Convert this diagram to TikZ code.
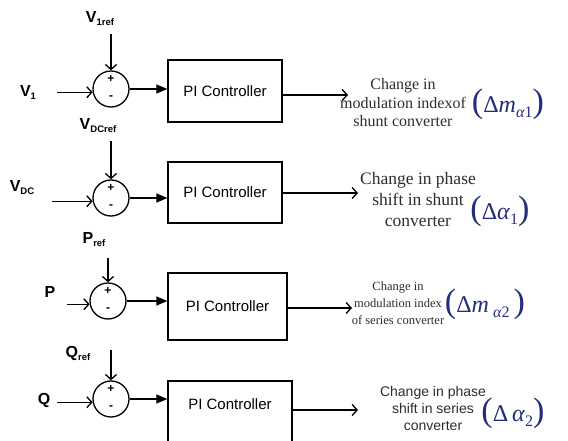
\documentclass[tikz,border=0pt]{standalone}
\usepackage{fontspec}
\setmainfont{Liberation Serif}
\setsansfont{Liberation Sans}
\usetikzlibrary{arrows.meta}
\definecolor{mathblue}{RGB}{35,45,125}
\definecolor{desctext}{RGB}{45,45,45}
\newcommand\siglab[2]{\textbf{#1}{\fontsize{9.5}{9.5}\selectfont\bfseries\raisebox{-3pt}{#2}}}
\newcommand\bigp[1]{{\fontsize{34}{34}\selectfont(}#1{\fontsize{34}{34}\selectfont)}}
\newcommand\mfont{\fontsize{24}{24}\selectfont}
\newcommand\subf{\fontsize{16}{16}\selectfont}
\begin{document}
\begin{tikzpicture}[x=1pt,y=-1pt,
  line width=1.3pt,
  sumnode/.style={circle,draw,minimum size=36pt,inner sep=0pt},
  pibox/.style={draw,font=\sffamily\fontsize{15}{15}\selectfont,inner sep=0pt},
  siglabel/.style={font=\sffamily\fontsize{16}{16}\selectfont,inner sep=0pt},
  desc/.style={font=\fontsize{16}{18.5}\selectfont,align=center,text=desctext,inner sep=0pt},
  descsans/.style={font=\sffamily\fontsize{14}{17}\selectfont,align=center,text=desctext,inner sep=0pt},
  mathlab/.style={text=mathblue,inner sep=0pt},
  inarr/.style={-{Straight Barb[length=5pt,width=11pt]}},
  boxarr/.style={-{Triangle[length=11pt,width=9pt]}},
  outarr/.style={-{Straight Barb[length=5pt,width=11pt]}},
  sgn/.style={font=\sffamily\bfseries\fontsize{12}{12}\selectfont,inner sep=0pt}
]
\useasboundingbox (0,0) rectangle (568,441);
\clip (0,0) rectangle (568,441);

% ---------- Block 1 ----------
\node[siglabel] (r1) at (100,19) {\siglab{V}{1ref}};
\node[siglabel] (l1) at (28,92) {\siglab{V}{1}};
\node[sumnode] (s1) at (111,89) {};
\node[sgn] (p1) at (111,79) {+};
\node[sgn] (n1) at (111,98) {-};
\node[pibox,minimum width=114pt,minimum height=62pt] (b1) at (225,91) {PI Controller};
\coordinate (r1a) at (111,34);
\coordinate (i1) at (57,0);
\coordinate (o1) at (348,95);
\draw[inarr] (r1a) -- (s1.north);
\draw[inarr] (s1.190 -| i1) -- (s1.190);
\draw[boxarr] (s1.east) -- (s1.east -| b1.west);
\draw[outarr] (o1 -| b1.east) -- (o1);
\node[desc] (t1) at (403,103) {Change in\\modulation indexof\\shunt converter};
\node[mathlab] (m1) at (508,104) {\bigp{\mfont Δ\textit{m}\raisebox{-5pt}{\subf\textit{α}1}}};

% ---------- Block 2 ----------
\node[siglabel] (r2) at (98,126) {\siglab{V}{DCref}};
\node[siglabel] (l2) at (22,188) {\siglab{V}{DC}};
\node[sumnode] (s2) at (111,198) {};
\node[sgn] (p2) at (111,188) {+};
\node[sgn] (n2) at (111,207) {-};
\node[pibox,minimum width=114pt,minimum height=61pt] (b2) at (225,192.5) {PI Controller};
\coordinate (r2a) at (111,141);
\coordinate (i2) at (52,0);
\coordinate (o2) at (358,193);
\draw[inarr] (r2a) -- (s2.north);
\draw[inarr] (s2.190 -| i2) -- (s2.190);
\draw[boxarr] (s2.east) -- (s2.east -| b2.west);
\draw[outarr] (o2 -| b2.east) -- (o2);
\node[desc,font=\fontsize{17.5}{21}\selectfont] (t2) at (418,200) {Change in phase\\shift in shunt\\converter};
\node[mathlab] (m2) at (500,211) {\bigp{\mfont Δ\textit{α}\raisebox{-5pt}{\subf 1}}};

% ---------- Block 3 ----------
\node[siglabel] (r3) at (94,240) {\siglab{P}{ref}};
\node[siglabel] (l3) at (50,292) {\textbf{P}};
\node[sumnode] (s3) at (108,301) {};
\node[sgn] (p3) at (108,291) {+};
\node[sgn] (n3) at (108,310) {-};
\node[pibox,minimum width=119pt,minimum height=67pt] (b3) at (227.5,306.5) {PI Controller};
\coordinate (r3a) at (108,258);
\coordinate (i3) at (67,0);
\coordinate (o3) at (352,308);
\draw[inarr] (r3a) -- (s3.north);
\draw[inarr] (s3.190 -| i3) -- (s3.190);
\draw[boxarr] (s3.east) -- (s3.east -| b3.west);
\draw[outarr] (o3 -| b3.east) -- (o3);
\node[desc,font=\fontsize{12.5}{17}\selectfont] (t3) at (398,303) {Change in\\modulation index\\of series converter};
\node[mathlab] (m3) at (485,304) {\bigp{\mfont Δ\textit{m}\,\raisebox{-5pt}{\subf\textit{α}2}\,}};

% ---------- Block 4 ----------
\node[siglabel] (r4) at (78,353) {\siglab{Q}{ref}};
\node[siglabel] (l4) at (44,400) {\textbf{Q}};
\node[sumnode] (s4) at (111,399) {};
\node[sgn] (p4) at (111,389) {+};
\node[sgn] (n4) at (111,408) {-};
\node[pibox,minimum width=124pt,minimum height=80pt] (b4) at (230,421) {};
\node[font=\sffamily\fontsize{15}{15}\selectfont,inner sep=0pt] (b4t) at (230,404) {PI Controller};
\coordinate (r4a) at (111,350);
\coordinate (i4) at (57,0);
\coordinate (o4) at (358,410);
\draw[inarr] (r4a) -- (s4.north);
\draw[inarr] (s4.190 -| i4) -- (s4.190);
\draw[boxarr] (s4.east) -- (s4.east -| b4.west);
\draw[outarr] (o4 -| b4.east) -- (o4);
\node[descsans] (t4) at (433,408) {Change in phase\\shift in series\\converter};
\node[mathlab] (m4) at (513,413) {\bigp{\mfont Δ\,\textit{α}\raisebox{-5pt}{\subf 2}}};
\end{tikzpicture}
\end{document}
